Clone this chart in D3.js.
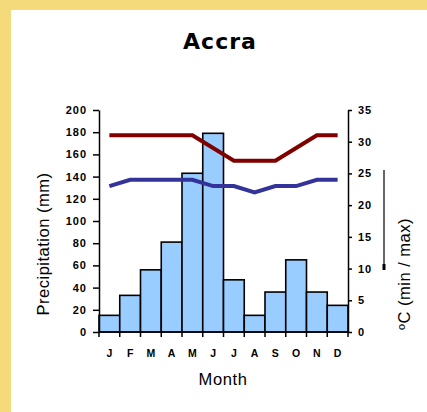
<!DOCTYPE html>
<style>
  body { margin: 0; }
  svg { display: block; }
  .tick text { font: bold 11px "Liberation Sans", Arial, sans-serif; letter-spacing: 1px; }
</style>
<svg width="427" height="412"></svg>
<script src="https://cdn.jsdelivr.net/npm/d3@7"></script>
<script>
var months = ["J","F","M","A","M","J","J","A","S","O","N","D"];
var precip = [15, 33, 56, 81, 143, 179, 47, 15, 36, 65, 36, 24];
var tMax = [31, 31, 31, 31, 31, 29, 27, 27, 27, 29, 31, 31];
var tMin = [23, 24, 24, 24, 24, 23, 23, 22, 23, 23, 24, 24];
var precipTicks = [0,20,40,60,80,100,120,140,160,180,200];
var tempTicks = [0,5,10,15,20,25,30,35];

var svg = d3.select("svg");

// yellow frame
svg.append("rect").attr("width", 427).attr("height", 412).attr("fill", "#f5da7c");
svg.append("rect").attr("x", 11).attr("y", 10).attr("width", 416).attr("height", 402).attr("fill", "#fff");

var idx = d3.range(months.length);
var x = d3.scaleBand().domain(idx).range([99, 348]).padding(0);
var yP = d3.scaleLinear().domain([0, 200]).range([332, 110]);
var yT = d3.scaleLinear().domain([0, 35]).range([332, 110]);

// bars
svg.append("g").selectAll("rect")
  .data(precip).enter().append("rect")
    .attr("x", function(d, i) { return x(i); })
    .attr("y", function(d) { return yP(d); })
    .attr("width", x.bandwidth())
    .attr("height", function(d) { return yP(0) - yP(d); })
    .attr("fill", "#99ccff")
    .attr("stroke", "#000")
    .attr("stroke-width", 1.6);

// temperature lines
var line = d3.line()
  .x(function(d, i) { return x(i) + x.bandwidth() / 2; })
  .y(function(d) { return yT(d); });

svg.append("path").datum(tMax)
  .attr("d", line).attr("fill", "none")
  .attr("stroke", "#800000").attr("stroke-width", 4);
svg.append("path").datum(tMin)
  .attr("d", line).attr("fill", "none")
  .attr("stroke", "#333399").attr("stroke-width", 4);

// left axis
var gl = svg.append("g").attr("transform", "translate(99,0)")
  .call(d3.axisLeft(yP).tickValues(precipTicks).tickSize(6).tickSizeOuter(0).tickPadding(6));
// right axis
var gr = svg.append("g").attr("transform", "translate(348,0)")
  .call(d3.axisRight(yT).tickValues(tempTicks).tickSize(4).tickSizeOuter(0).tickPadding(6));
[gl, gr].forEach(function(g) {
  g.selectAll("path, line").attr("stroke", "#000").attr("stroke-width", 1.5);
  g.selectAll("text").attr("fill", "#000");
});

// x axis: labels at band centres, ticks at band edges
var gx = svg.append("g").attr("transform", "translate(0,332)");
gx.append("line").attr("x1", 99).attr("x2", 348).attr("stroke", "#000").attr("stroke-width", 1.5);
gx.selectAll(".edge").data(idx.concat([months.length])).enter().append("line")
  .attr("x1", function(i) { return i < months.length ? x(i) : 348; })
  .attr("x2", function(i) { return i < months.length ? x(i) : 348; })
  .attr("y2", 5).attr("stroke", "#000").attr("stroke-width", 1.5);
gx.selectAll(".lbl").data(months).enter().append("text")
  .attr("x", function(d, i) { return x(i) + x.bandwidth() / 2; })
  .attr("y", 25)
  .attr("text-anchor", "middle")
  .style("font", "bold 10.5px 'Liberation Sans', Arial, sans-serif")
  .text(function(d) { return d; });

// titles
svg.append("text")
  .attr("x", 220).attr("y", 49)
  .attr("text-anchor", "middle")
  .style("font", "bold 22px 'DejaVu Sans', sans-serif")
  .style("letter-spacing", "1px")
  .text("Accra");

svg.append("text")
  .attr("x", 223).attr("y", 385)
  .attr("text-anchor", "middle")
  .style("font", "16.5px 'Liberation Sans', Arial, sans-serif")
  .style("letter-spacing", "0.6px")
  .text("Month");

svg.append("text")
  .attr("transform", "translate(49,244) rotate(-90)")
  .attr("text-anchor", "middle")
  .style("font", "16.5px 'Liberation Sans', Arial, sans-serif")
  .style("letter-spacing", "0.5px")
  .text("Precipitation (mm)");

svg.append("text")
  .attr("transform", "translate(410,274) rotate(-90)")
  .attr("text-anchor", "middle")
  .style("font", "16.5px 'Liberation Sans', Arial, sans-serif")
  .style("letter-spacing", "0.5px")
  .text("ºC (min / max)");

// stray leader line beside the right axis title
svg.append("line").attr("x1", 384).attr("x2", 384).attr("y1", 170).attr("y2", 270)
  .attr("stroke", "#000").attr("stroke-width", 1.2);
svg.append("rect").attr("x", 382.5).attr("y", 264).attr("width", 3).attr("height", 6).attr("fill", "#000");
</script>
